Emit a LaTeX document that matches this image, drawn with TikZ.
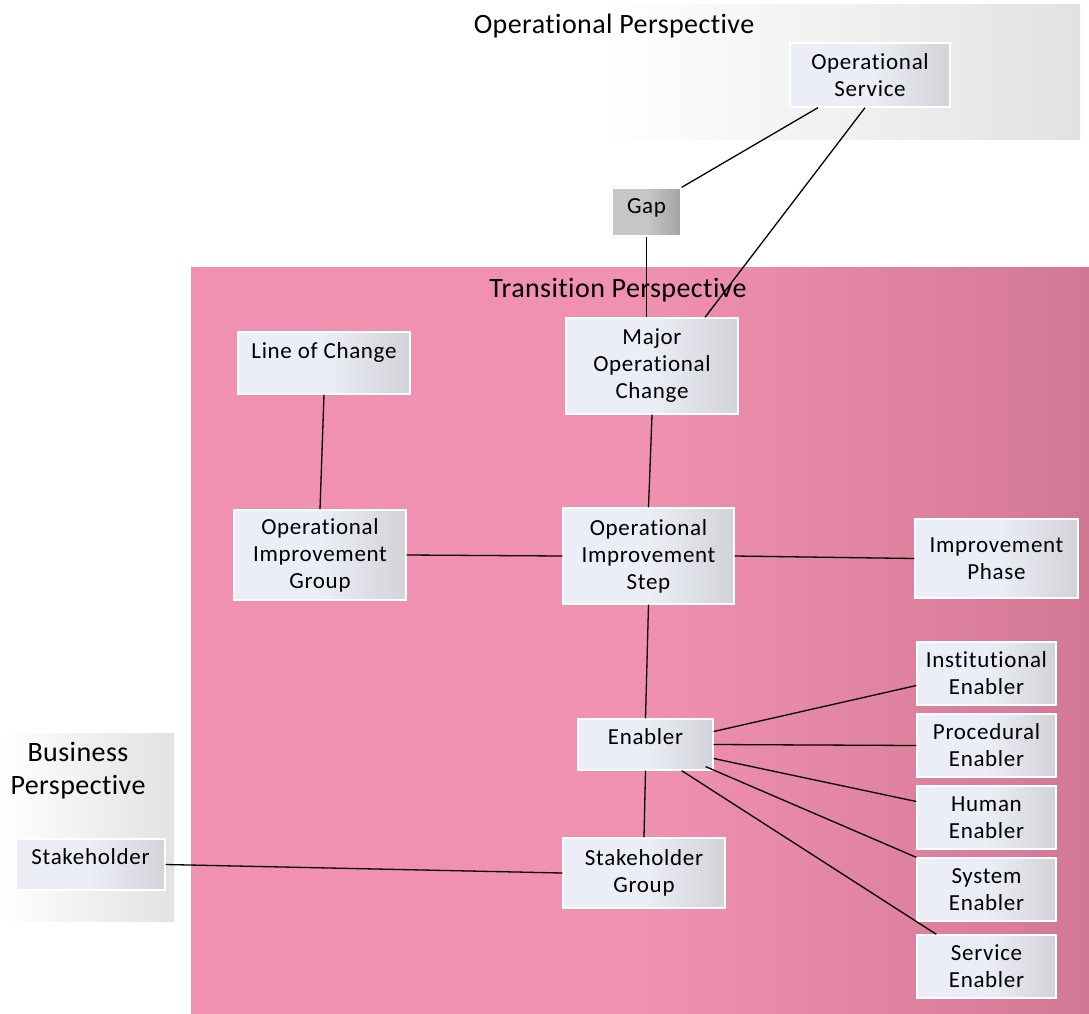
\documentclass[tikz,border=0pt]{standalone}
\usepackage{fontspec}
\setmainfont{Carlito}
\newfontfamily\boxfont[LetterSpace=3, Ligatures=NoCommon]{Carlito}
\newfontfamily\titlefont[LetterSpace=1.5, Ligatures=NoCommon]{Carlito}
\usetikzlibrary{calc}

\definecolor{boxL}{HTML}{ECEEF7}
\definecolor{boxR}{HTML}{D2D3D8}
\definecolor{gapL}{HTML}{C6C6C6}
\definecolor{gapR}{HTML}{A4A4A4}
\definecolor{pinkL}{HTML}{F191B1}
\definecolor{pinkR}{HTML}{D27895}
\definecolor{panelgray}{HTML}{E2E2E2}

\begin{document}
\begin{tikzpicture}[x=1pt, y=-1pt]
%styles
\tikzstyle{box}=[rectangle, draw=white, line width=1.3pt, left color=boxL, right color=boxR, middle color=boxL, text=black, align=center, inner sep=0pt, font=\boxfont\fontsize{23}{27}\selectfont]
\tikzstyle{gapbox}=[box, left color=gapL, right color=gapR, middle color=gapL]
\tikzstyle{toptext}=[text height=16pt, text depth=#1]
\tikzstyle{title}=[text=black, align=center, font=\titlefont\fontsize{28}{33}\selectfont]
\tikzstyle{link}=[black, line width=1.3pt]

\useasboundingbox (0,0) rectangle (1089,1014);

%perspectives
\shade[left color=white, right color=panelgray] (600,5) rectangle (1080,140);
\shade[left color=pinkL, right color=pinkR, middle color=pinkL] (191,267) rectangle (1089,1014);
\shade[left color=white, right color=panelgray] (0,733) rectangle (174,921);

\node[title] (optitle) at (614,26) {Operational Perspective};
\node[title] (trtitle) at (618,290) {Transition Perspective};
\node[title] (bstitle) at (78,771) {Business\\Perspective};

%nodes
\node[box, minimum width=160, minimum height=64] (opserv) at (870,75) {Operational\\Service};
\node[gapbox, minimum width=69, minimum height=48, toptext=14pt] (gap) at (646.5,212) {Gap};
\node[box, minimum width=172, minimum height=96] (moc) at (652,366) {Major\\Operational\\Change};
\node[box, minimum width=172, minimum height=62, toptext=26pt] (loc) at (324,363) {Line of Change};
\node[box, minimum width=172, minimum height=90] (oig) at (320,555) {Operational\\Improvement\\Group};
\node[box, minimum width=171, minimum height=96] (ois) at (648.5,556) {Operational\\Improvement\\Step};
\node[box, minimum width=163, minimum height=79] (phase) at (996.5,558.5) {Improvement\\Phase};
\node[box, minimum width=135, minimum height=51, toptext=17pt] (enab) at (645.5,744.5) {Enabler};
\node[box, minimum width=139, minimum height=63] (inst) at (986.5,673.5) {Institutional\\Enabler};
\node[box, minimum width=139, minimum height=63] (proc) at (986.5,745.5) {Procedural\\Enabler};
\node[box, minimum width=139, minimum height=63] (human) at (986.5,817.5) {Human\\Enabler};
\node[box, minimum width=139, minimum height=63] (system) at (986.5,889.5) {System\\Enabler};
\node[box, minimum width=139, minimum height=63] (service) at (986.5,966.5) {Service\\Enabler};
\node[box, minimum width=162, minimum height=70] (sgroup) at (644,873) {Stakeholder\\Group};
\node[box, minimum width=149, minimum height=51, toptext=17pt] (stake) at (90.5,864.5) {Stakeholder};

%links
\draw[link] ($(opserv.south)+(-52,0)$) -- (gap.north east);
\draw[link] ($(opserv.south)+(-5,0)$) -- ($(moc.north)+(53,0)$);
\draw[link] (gap.south) -- (gap.south |- moc.north);
\draw[link] (moc.south) -- (ois.north);
\draw[link] (loc.south) -- (oig.north);
\draw[link] (oig.east) -- (ois.west);
\draw[link] (ois.east) -- (phase.west);
\draw[link] (ois.south) -- (enab.north);
\draw[link] (enab.south) -- (sgroup.north);
\draw[link] (stake.east) -- (sgroup.west);
\draw[link] ($(enab.east)+(0,-13)$) -- ($(inst.west)+(0,12)$);
\draw[link] (enab.east) -- (proc.west);
\draw[link] ($(enab.east)+(0,14)$) -- ($(human.west)+(0,-16)$);
\draw[link] ($(enab.south east)+(-8,-4)$) -- (system.north west);
\draw[link] ($(enab.south east)+(-32,0)$) -- ($(service.north west)+(20,0)$);

\end{tikzpicture}
\end{document}
